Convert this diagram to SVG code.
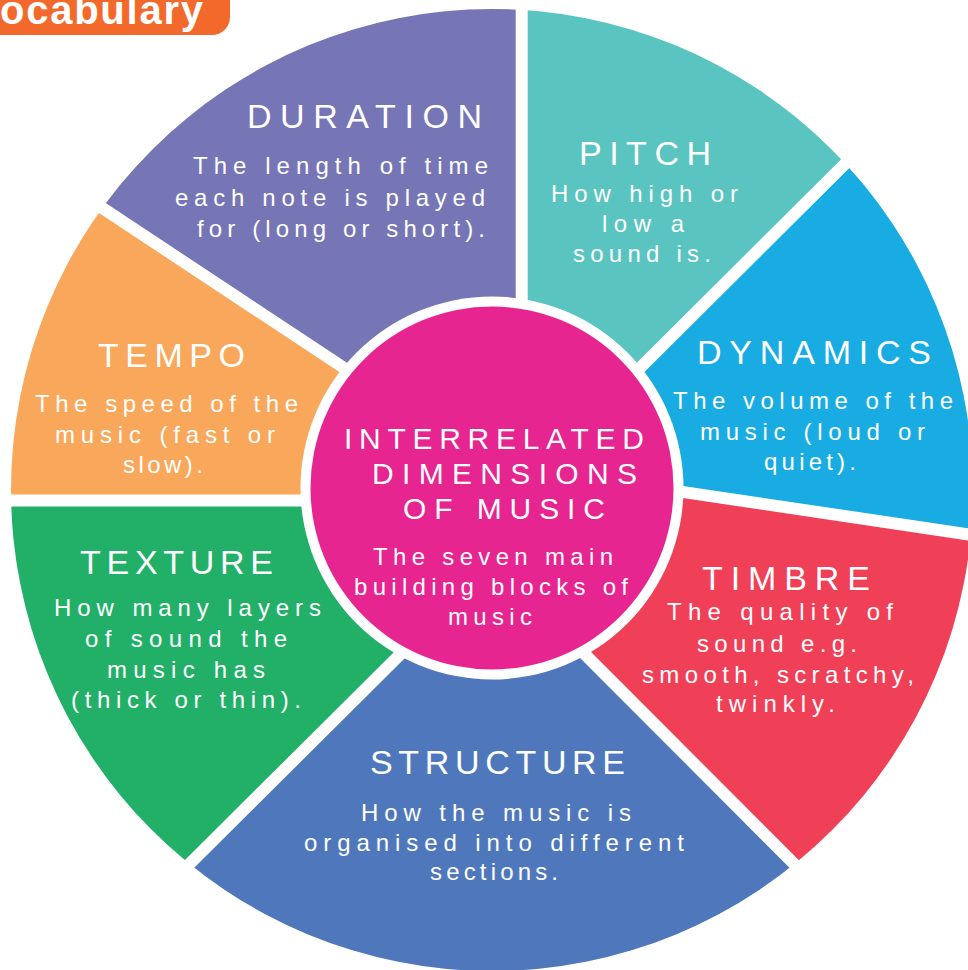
<svg xmlns="http://www.w3.org/2000/svg" width="968" height="970" viewBox="0 0 968 970">
<defs>
<clipPath id="wheel"><circle cx="492" cy="490" r="481"/></clipPath>
<style>
text{font-family:"Liberation Sans",Arial,sans-serif;fill:#ffffff;}
.t{font-size:34px;}
.c{font-size:30px;}
.b{font-size:24px;}
.gap{stroke:#ffffff;stroke-width:12;fill:none;stroke-linecap:butt;}
</style>
</defs>
<rect width="968" height="970" fill="#ffffff"/>
<g id="tab">
<rect x="-30" y="-30" width="260" height="65" rx="18" fill="#F2692B"/>
<text x="0" y="24" style="font-size:40px;font-weight:bold" textLength="203" lengthAdjust="spacing">ocabulary</text>
</g>
<g clip-path="url(#wheel)">
<g id="duration">
<polygon points="492,490 385.7,395.6 -100,74 -100,-100 521.7,-100 521.7,360" fill="#7675B5"/>
</g>
<g id="pitch">
<polygon points="492,490 521.7,360 521.7,-100 1100,-100 1099,-89 597.5,410.3" fill="#5AC4C0"/>
</g>
<g id="dynamics">
<polygon points="492,490 597.5,410.3 1099,-89 1200,-89 1200,568 1100,554 620,482.6" fill="#19ACE3"/>
</g>
<g id="timbre">
<polygon points="492,490 620,482.6 1100,554 1100,1100 1000,1070 545.6,615" fill="#EF4057"/>
</g>
<g id="structure">
<polygon points="492,490 545.6,615 1000,1070 1000,1100 -20,1100 -20,1072.5 438.5,616.2" fill="#4F78BC"/>
</g>
<g id="texture">
<polygon points="492,490 438.5,616.2 -20,1072.5 -100,1100 -100,500.5 360,500.5" fill="#22B068"/>
</g>
<g id="tempo">
<polygon points="492,490 360,500.5 -100,500.5 -100,74 385.7,395.6" fill="#F9A75B"/>
</g>
</g>
<g id="separators">
<line class="gap" x1="521.7" y1="360" x2="521.7" y2="-100"/>
<line class="gap" x1="597.5" y1="410.3" x2="1099" y2="-89"/>
<line class="gap" x1="620" y1="482.6" x2="1100" y2="554"/>
<line class="gap" x1="545.6" y1="615" x2="1000" y2="1070"/>
<line class="gap" x1="438.5" y1="616.2" x2="-20" y2="1072.5"/>
<line class="gap" x1="360" y1="500.5" x2="-100" y2="500.5"/>
<line class="gap" x1="385.7" y1="395.6" x2="-100" y2="74"/>
</g>
<g id="center">
<circle cx="492" cy="488" r="191.5" fill="#ffffff"/>
<circle cx="492" cy="488" r="181.5" fill="#E62591"/>
<text class="c" x="344" y="449" textLength="300" lengthAdjust="spacing">INTERRELATED</text>
<text class="c" x="372" y="484" textLength="265" lengthAdjust="spacing">DIMENSIONS</text>
<text class="c" x="403" y="519" textLength="202" lengthAdjust="spacing">OF MUSIC</text>
<text class="b" x="373" y="565" textLength="240" lengthAdjust="spacing">The seven main</text>
<text class="b" x="354" y="595" textLength="274" lengthAdjust="spacing">building blocks of</text>
<text class="b" x="448" y="625" textLength="84" lengthAdjust="spacing">music</text>
</g>
<g id="duration-text">
<text class="t" x="247" y="128" textLength="235" lengthAdjust="spacing">DURATION</text>
<text class="b" x="193" y="174" textLength="295" lengthAdjust="spacing">The length of time</text>
<text class="b" x="175" y="206" textLength="310" lengthAdjust="spacing">each note is played</text>
<text class="b" x="197" y="237" textLength="288" lengthAdjust="spacing">for (long or short).</text>
</g>
<g id="pitch-text">
<text class="t" x="579" y="165" textLength="132" lengthAdjust="spacing">PITCH</text>
<text class="b" x="551" y="202" textLength="187" lengthAdjust="spacing">How high or</text>
<text class="b" x="602" y="232" textLength="82" lengthAdjust="spacing">low a</text>
<text class="b" x="573" y="262" textLength="138" lengthAdjust="spacing">sound is.</text>
</g>
<g id="dynamics-text">
<text class="t" x="697" y="364" textLength="234" lengthAdjust="spacing">DYNAMICS</text>
<text class="b" x="673" y="409" textLength="280" lengthAdjust="spacing">The volume of the</text>
<text class="b" x="700" y="440" textLength="225" lengthAdjust="spacing">music (loud or</text>
<text class="b" x="764" y="470" textLength="92" lengthAdjust="spacing">quiet).</text>
</g>
<g id="tempo-text">
<text class="t" x="98" y="367" textLength="147" lengthAdjust="spacing">TEMPO</text>
<text class="b" x="35" y="412" textLength="263" lengthAdjust="spacing">The speed of the</text>
<text class="b" x="55" y="443" textLength="220" lengthAdjust="spacing">music (fast or</text>
<text class="b" x="123" y="473" textLength="80" lengthAdjust="spacing">slow).</text>
</g>
<g id="texture-text">
<text class="t" x="80" y="574" textLength="193" lengthAdjust="spacing">TEXTURE</text>
<text class="b" x="54" y="616" textLength="267" lengthAdjust="spacing">How many layers</text>
<text class="b" x="85" y="647" textLength="202" lengthAdjust="spacing">of sound the</text>
<text class="b" x="107" y="678" textLength="158" lengthAdjust="spacing">music has</text>
<text class="b" x="71" y="708" textLength="230" lengthAdjust="spacing">(thick or thin).</text>
</g>
<g id="structure-text">
<text class="t" x="370" y="774" textLength="255" lengthAdjust="spacing">STRUCTURE</text>
<text class="b" x="361" y="821" textLength="270" lengthAdjust="spacing">How the music is</text>
<text class="b" x="304" y="851" textLength="380" lengthAdjust="spacing">organised into different</text>
<text class="b" x="430" y="880" textLength="128" lengthAdjust="spacing">sections.</text>
</g>
<g id="timbre-text">
<text class="t" x="702" y="590" textLength="168" lengthAdjust="spacing">TIMBRE</text>
<text class="b" x="667" y="620" textLength="226" lengthAdjust="spacing">The quality of</text>
<text class="b" x="697" y="652" textLength="160" lengthAdjust="spacing">sound e.g.</text>
<text class="b" x="642" y="683" textLength="272" lengthAdjust="spacing">smooth, scratchy,</text>
<text class="b" x="716" y="712" textLength="119" lengthAdjust="spacing">twinkly.</text>
</g>
</svg>
